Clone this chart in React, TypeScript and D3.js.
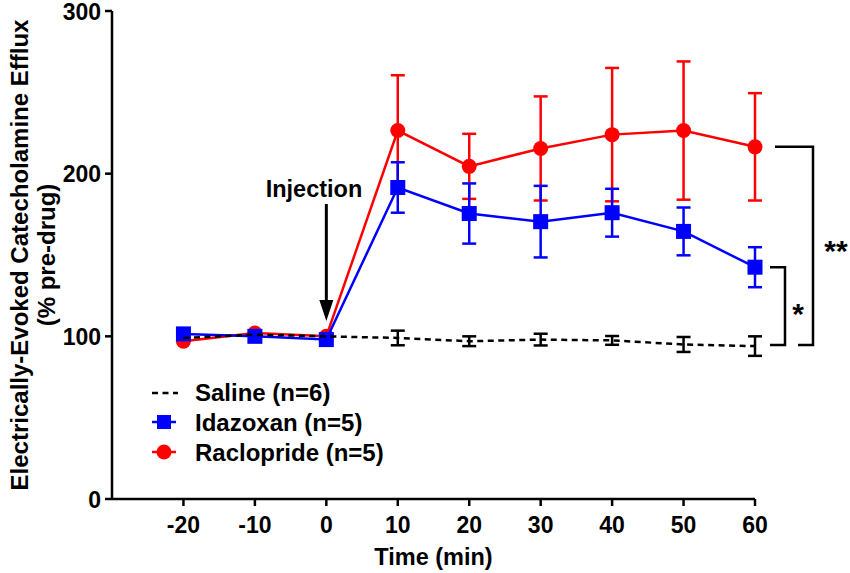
import React from "react";
import * as d3 from "d3";

const times = [-20, -10, 0, 10, 20, 30, 40, 50, 60];
const xTicks = [-20, -10, 0, 10, 20, 30, 40, 50, 60];
const yTicks = [0, 100, 200, 300];

const saline = [99, 101, 100, 99, 97, 98, 97.5, 95, 94];
const salineErr = [0, 0, 0, 4.5, 3, 3.6, 2.7, 4.6, 6];
const idazoxan = [101.5, 100, 98, 191.5, 175.5, 170.5, 176, 164.5, 142.5];
const idazoxanErr = [0, 0, 0, 15.5, 18.5, 22, 14.7, 14.7, 12.3];
const raclopride = [97, 102, 100, 226.5, 204.5, 215.5, 224, 226.5, 216.5];
const racloprideErr = [0, 0, 0, 34, 20, 32, 41, 42.5, 33];

const legendLabels = ["Saline (n=6)", "Idazoxan (n=5)", "Raclopride (n=5)"];

const FONT = "'Liberation Sans', Arial, sans-serif";
const RED = "#ff0000";
const BLUE = "#0000ff";

export default function App() {
  const x = d3.scaleLinear().domain([-30, 60]).range([112, 755]);
  const y = d3.scaleLinear().domain([0, 300]).range([499, 11]);
  const line = d3
    .line<number>()
    .x((_, i) => x(times[i]))
    .y((d) => y(d));

  const errBars = (vals: number[], errs: number[], color: string, key: string) =>
    vals.map((v, i) =>
      errs[i] > 0 ? (
        <g key={key + i} stroke={color} strokeWidth={2.5}>
          <line x1={x(times[i])} x2={x(times[i])} y1={y(v - errs[i])} y2={y(v + errs[i])} />
          <line x1={x(times[i]) - 7} x2={x(times[i]) + 7} y1={y(v + errs[i])} y2={y(v + errs[i])} />
          <line x1={x(times[i]) - 7} x2={x(times[i]) + 7} y1={y(v - errs[i])} y2={y(v - errs[i])} />
        </g>
      ) : null
    );

  const last = times.length - 1;
  const yRac = y(raclopride[last]);
  const yIda = y(idazoxan[last]);
  const ySal = y(saline[last]) - 1;

  return (
    <svg
      width={850}
      height={573}
      style={{ position: "absolute", left: 0, top: 0, background: "#fff" }}
      fontFamily={FONT}
      fontWeight="bold"
    >
      {/* axes */}
      <g stroke="#000" strokeWidth={2.5} fill="none">
        <line x1={112} x2={112} y1={y(300)} y2={y(0)} />
        <line x1={112} x2={755} y1={y(0)} y2={y(0)} />
        {yTicks.map((t) => (
          <line key={"yt" + t} x1={105} x2={112} y1={y(t)} y2={y(t)} />
        ))}
        {xTicks.map((t) => (
          <line key={"xt" + t} x1={x(t)} x2={x(t)} y1={y(0)} y2={y(0) + 7} />
        ))}
      </g>
      {yTicks.map((t) => (
        <text key={"yl" + t} x={101} y={y(t) + 8.5} textAnchor="end" fontSize={23}>
          {t}
        </text>
      ))}
      {xTicks.map((t) => (
        <text key={"xl" + t} x={x(t)} y={533} textAnchor="middle" fontSize={23}>
          {t}
        </text>
      ))}
      <text x={x(15)} y={565} textAnchor="middle" fontSize={23.5}>
        Time (min)
      </text>
      <text transform="translate(28,255) rotate(-90)" textAnchor="middle" fontSize={24}>
        Electrically-Evoked Catecholamine Efflux
      </text>
      <text transform="translate(55,255) rotate(-90)" textAnchor="middle" fontSize={24}>
        (% pre-drug)
      </text>

      {/* Raclopride */}
      {errBars(raclopride, racloprideErr, RED, "r")}
      <path d={line(raclopride) ?? ""} fill="none" stroke={RED} strokeWidth={2.5} />
      {raclopride.map((v, i) => (
        <circle key={"rc" + i} cx={x(times[i])} cy={y(v)} r={7.5} fill={RED} />
      ))}

      {/* Idazoxan */}
      {errBars(idazoxan, idazoxanErr, BLUE, "b")}
      <path d={line(idazoxan) ?? ""} fill="none" stroke={BLUE} strokeWidth={2.5} />
      {idazoxan.map((v, i) => (
        <rect key={"bs" + i} x={x(times[i]) - 7.5} y={y(v) - 7.5} width={15} height={15} fill={BLUE} />
      ))}

      {/* Saline */}
      {errBars(saline, salineErr, "#000", "s")}
      <path
        d={line(saline) ?? ""}
        fill="none"
        stroke="#000"
        strokeWidth={2.5}
        strokeDasharray="6 4.5"
      />

      {/* Injection annotation */}
      <text x={314} y={197} textAnchor="middle" fontSize={23.5}>
        Injection
      </text>
      <line x1={x(0)} x2={x(0)} y1={204} y2={302} stroke="#000" strokeWidth={3} />
      <path
        d={`M${x(0) - 7},${300} L${x(0) + 7},${300} L${x(0)},${321} Z`}
        fill="#000"
      />

      {/* significance brackets */}
      <g stroke="#000" strokeWidth={2.5} fill="none">
        <path d={`M775,${yRac} H813 V${ySal} H798`} />
        <path d={`M770,${yIda} H785 V${ySal} H770`} />
      </g>
      <text x={798} y={324} textAnchor="middle" fontSize={30}>
        *
      </text>
      <text x={836} y={261} textAnchor="middle" fontSize={30}>
        **
      </text>

      {/* legend */}
      <g>
        <line x1={152} x2={178} y1={393} y2={393} stroke="#000" strokeWidth={2.5} strokeDasharray="6 4.5" />
        <line x1={152} x2={176} y1={422} y2={422} stroke={BLUE} strokeWidth={2.5} />
        <rect x={157} y={415} width={14} height={14} fill={BLUE} />
        <line x1={152} x2={176} y1={452} y2={452} stroke={RED} strokeWidth={2.5} />
        <circle cx={164} cy={452} r={7.5} fill={RED} />
        {legendLabels.map((l, i) => (
          <text key={"lg" + i} x={195} y={401 + i * 30} fontSize={24}>
            {l}
          </text>
        ))}
      </g>
    </svg>
  );
}
